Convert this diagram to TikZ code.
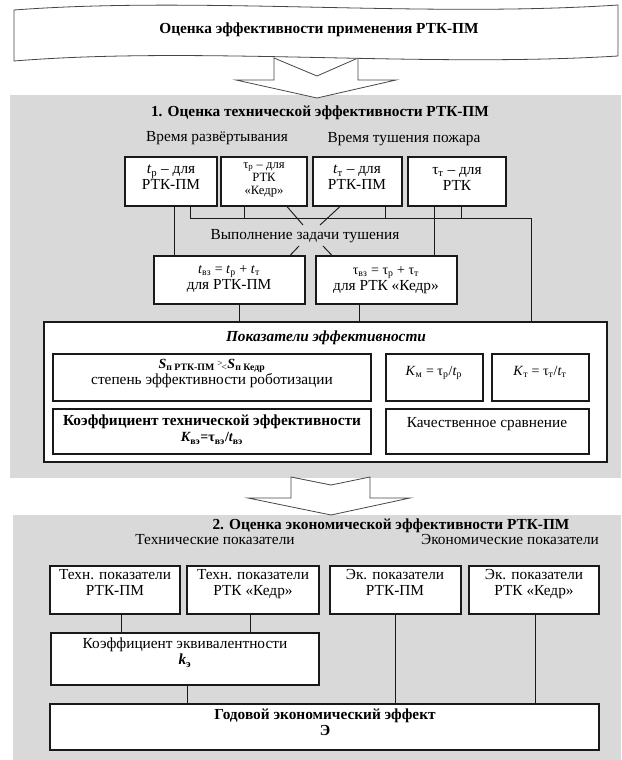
\documentclass[tikz,border=0pt]{standalone}
\usepackage{fontspec}
\setmainfont{Liberation Serif}
\usetikzlibrary{fit,positioning}

\definecolor{panelgray}{RGB}{217,217,217}
\definecolor{edgegray}{RGB}{70,70,70}
\newcommand{\smallfs}{\fontsize{10.5}{11.5}\selectfont}

\begin{document}
\fontsize{11.5}{12}\selectfont
\begin{tikzpicture}[x=0.75pt, y=-0.75pt,
    box/.style={draw=black!90, fill=white, line width=0.8pt, inner sep=0pt},
    txt/.style={inner sep=0pt, align=center, execute at begin node=\strut, execute at end node=\strut},
    con/.style={draw=black!90, line width=0.7pt},
    bigarrow/.style={draw=edgegray, fill=white, line width=0.6pt}]
\useasboundingbox (0,0) rectangle (621,760);

% grey panels
\fill[panelgray] (10,95) rectangle (621,478);
\fill[panelgray] (13,515) rectangle (621,760);

% block arrows and the heading banner
\draw[bigarrow] (274,58) -- (317,76) -- (358,58) -- (358,80) -- (396,80) -- (317,98)
    -- (236,80) -- (274,80) -- cycle;
\draw[bigarrow] (291,477) -- (331,485) -- (370,477) -- (370,498) -- (410,498) -- (331,515)
    -- (248,498) -- (291,498) -- cycle;
\draw[bigarrow] (14,10) .. controls (200,-4) and (420,18) .. (618,5) -- (618,56)
    .. controls (420,68) and (200,46) .. (14,61) -- cycle;
\node[txt] (head) at (319,30) {\bfseries Оценка эффективности применения РТК-ПМ};

% 1. technical efficiency
\node[txt] (tech) at (320,113) {\bfseries 1. Оценка технической эффективности РТК-ПМ};
\node[txt] (deploy) at (217,138) {Время развёртывания};
\node[txt] (extinct) at (404,139) {Время тушения пожара};

\node[box, fit={(125,157) (217,206)}] (tp) {};
\node[txt] (tptxt) at (171,180) {\textit{t}\textsubscript{р} – для\\РТК-ПМ};
\node[box, fit={(221,157) (307,206)}] (taup) {};
\node[inner sep=0pt, align=center, font=\fontsize{9.5}{9.8}\selectfont] (tauptxt) at (264,180)
    {τ\textsubscript{р} – для\\РТК\\«Кедр»};
\node[box, fit={(313,157) (402,206)}] (tt) {};
\node[txt] (tttxt) at (357,180) {\textit{t}\textsubscript{т} – для\\РТК-ПМ};
\node[box, fit={(408,157) (506,206)}] (taut) {};
\node[txt] (tauttxt) at (457,181) {τ\textsubscript{т} – для\\РТК};

\node[txt] (task) at (305,236) {Выполнение задачи тушения};
\coordinate (hl1) at (190,218);
\coordinate (hl2) at (531,218);
\coordinate (tl) at (303,225);
\coordinate (tr) at (320,225);
\coordinate (bl) at (299,246);
\coordinate (br) at (323,246);

\node[box, fit={(154,256) (305,304)}] (tvz) {};
\node[txt] (tvztxt) at (229,280)
    {{\smallfs \textit{t}\textsubscript{вз} = \textit{t}\textsubscript{р} + \textit{t}\textsubscript{т}}\\для РТК-ПМ};
\node[box, fit={(316,256) (457,304)}] (tauvz) {};
\node[txt] (tauvztxt) at (386,281)
    {{\smallfs τ\textsubscript{вз} = τ\textsubscript{р} + τ\textsubscript{т}}\\для РТК «Кедр»};

\node[box, fit={(44,322) (607,462)}] (eff) {};
\node[txt] (efftitle) at (326,338) {\bfseries\itshape Показатели эффективности};
\node[box, fit={(53,354) (371,401)}] (robot) {};
\node[txt] (robottxt) at (212,374)
    {{\smallfs{\bfseries\itshape S}\textsubscript{\bfseries п РТК-ПМ}\,\raisebox{1pt}{\scriptsize >}\hspace{-1pt}\textsubscript{<}{\bfseries\itshape S}\textsubscript{\bfseries п Кедр}}\\степень эффективности роботизации};
\node[box, fit={(386,354) (483,401)}] (km) {};
\node[txt, font=\smallfs] (kmtxt) at (434,372) {\textit{K}\textsubscript{м} = τ\textsubscript{р}/\textit{t}\textsubscript{р}};
\node[box, fit={(492,354) (589,401)}] (kt) {};
\node[txt, font=\smallfs] (kttxt) at (540,372) {\textit{K}\textsubscript{т} = τ\textsubscript{т}/\textit{t}\textsubscript{т}};
\node[box, fit={(53,409) (371,454)}] (kvz) {};
\node[txt] (kvztxt) at (212,431)
    {\bfseries Коэффициент технической эффективности\\{\smallfs\bfseries\itshape K\textsubscript{\upshape вэ}\upshape =τ\textsubscript{вэ}/\itshape t\textsubscript{\upshape вэ}}};
\node[box, fit={(386,409) (589,454)}] (qual) {};
\node[txt] (qualtxt) at (487,424) {Качественное сравнение};

\draw[con] (tp.south -| hl1) -- (hl1) -- (hl2) -- (eff.north -| hl2);
\draw[con] (taup.south -| 244,0) -- (244,0 |- hl1);
\draw[con] (tt.south -| 385,0) -- (385,0 |- hl1);
\draw[con] (taut.south -| 461,0) -- (461,0 |- hl1);
\draw[con] (tp.south -| 174,0) -- (tvz.north -| 174,0);
\draw[con] (taut.south -| 434,0) -- (tauvz.north -| 434,0);
\draw[con] (taup.south -| 287,0) -- (tl);
\draw[con] (tt.south -| 340,0) -- (tr);
\draw[con] (tvz.north -| 290,0) -- (bl);
\draw[con] (tauvz.north -| 332,0) -- (br);
\draw[con] (tvz.south -| 239,0) -- (eff.north -| 239,0);
\draw[con] (tauvz.south -| 359,0) -- (eff.north -| 359,0);

% 2. economic efficiency
\node[txt] (econ) at (391,526) {\bfseries 2. Оценка экономической эффективности РТК-ПМ};
\node[txt] (techind) at (215,541) {Технические показатели};
\node[txt] (econind) at (510,541) {Экономические показатели};

\node[box, fit={(50,566) (180,614)}] (f1) {};
\node[txt] (f1txt) at (115,585) {Техн. показатели\\РТК-ПМ};
\node[box, fit={(187,566) (319,614)}] (f2) {};
\node[txt] (f2txt) at (253,585) {Техн. показатели\\РТК «Кедр»};
\node[box, fit={(330,566) (461,614)}] (f3) {};
\node[txt] (f3txt) at (395,585) {Эк. показатели\\РТК-ПМ};
\node[box, fit={(469,566) (599,614)}] (f4) {};
\node[txt] (f4txt) at (534,585) {Эк. показатели\\РТК «Кедр»};

\node[box, fit={(51,633) (319,685)}] (keq) {};
\node[txt] (keqtxt) at (185,654) {Коэффициент эквивалентности\\{\bfseries\itshape k}\textsubscript{\bfseries э}};
\node[box, fit={(50,704) (599,750)}] (year) {};
\node[txt] (yeartxt) at (325,725) {\bfseries Годовой экономический эффект\\\bfseries Э};

\draw[con] (f1.south -| 121,0) -- (keq.north -| 121,0);
\draw[con] (f2.south -| 250,0) -- (keq.north -| 250,0);
\draw[con] (keq.south -| 187,0) -- (year.north -| 187,0);
\draw[con] (f3.south -| 395,0) -- (year.north -| 395,0);
\draw[con] (f4.south -| 535,0) -- (year.north -| 535,0);
\end{tikzpicture}
\end{document}
